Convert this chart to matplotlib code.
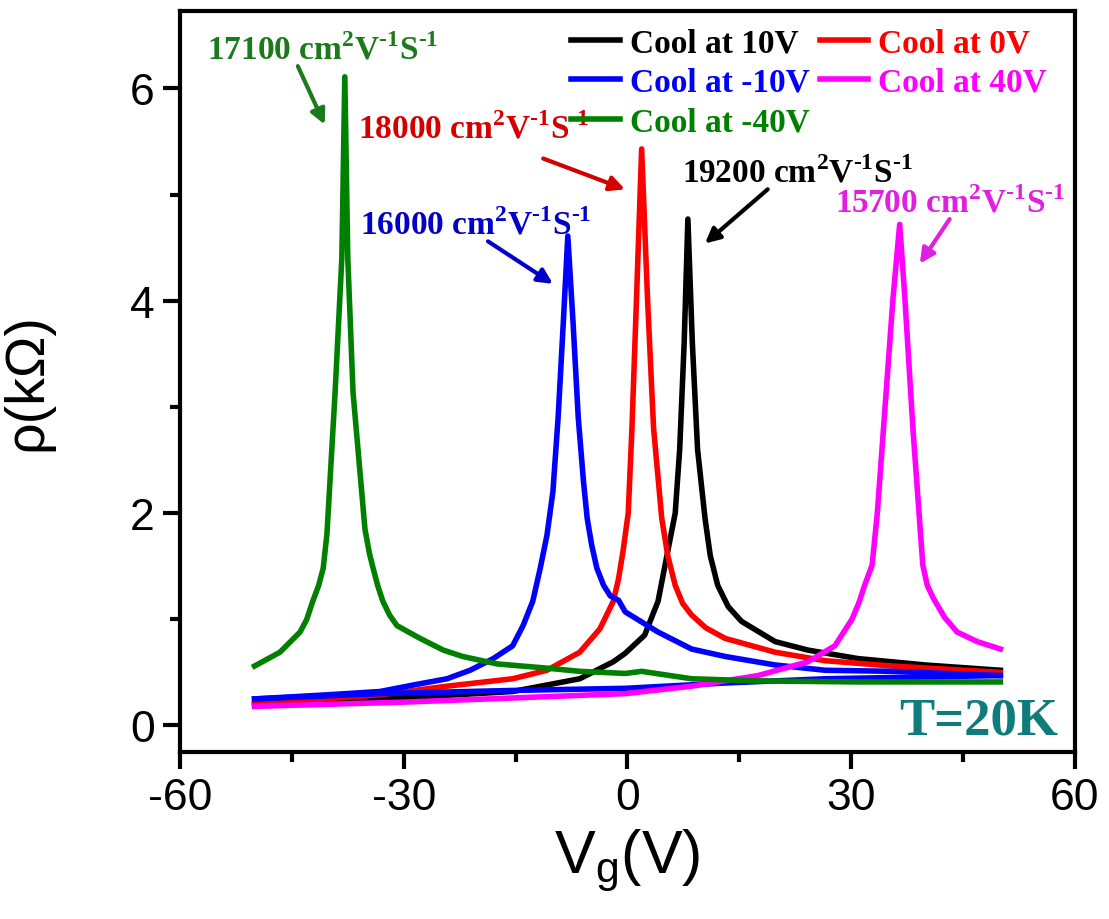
import numpy as np
import matplotlib
matplotlib.use("Agg")
import matplotlib.pyplot as plt
from matplotlib.ticker import MultipleLocator

plt.rcParams['axes.unicode_minus'] = False
plt.rcParams['mathtext.fontset'] = 'custom'
plt.rcParams['mathtext.rm'] = 'Liberation Serif:bold'
plt.rcParams['mathtext.sf'] = 'Liberation Sans'

# resistivity vs gate voltage, sample cooled at different gate biases (T = 20 K)
vg_10 = [-50, -30, -15.4, -6.4, -1.9, -0.3, 2.3, 4.1, 5.4, 6.4, 7.0, 7.6, 8.1, 8.7, 9.4, 10.4, 11.1, 12.1, 13.5, 15.3, 19.8, 24.2, 30.9, 39.9, 50]
rho_10 = [0.2, 0.26, 0.32, 0.44, 0.6, 0.68, 0.85, 1.17, 1.64, 2.0, 2.6, 3.6, 4.77, 3.6, 2.6, 1.95, 1.6, 1.32, 1.12, 0.98, 0.79, 0.71, 0.63, 0.57, 0.52]

vg_0 = [-50, -33, -24.2, -15.4, -10.8, -6.4, -3.7, -1.9, -1.2, -0.6, 0.1, 0.6, 1.2, 1.9, 2.7, 3.5, 4.6, 5.4, 6.4, 7.4, 8.6, 10.5, 13.1, 19.8, 26.5, 35.5, 50]
rho_0 = [0.2, 0.29, 0.37, 0.44, 0.52, 0.69, 0.91, 1.17, 1.38, 1.64, 2.0, 2.8, 4.0, 5.43, 4.0, 2.8, 1.95, 1.6, 1.32, 1.15, 1.04, 0.92, 0.82, 0.69, 0.61, 0.56, 0.5]

vg_m10 = [-50, -40, -33.2, -28.8, -24.2, -21.1, -18.0, -15.4, -14.0, -12.7, -11.7, -10.8, -10.0, -9.3, -8.6, -8.0, -7.3, -6.6, -5.9, -5.4, -4.8, -4.1, -3.2, -2.3, -1.2, -0.3, 4.1, 8.6, 13.1, 19.8, 26.5, 35.5, 50]
rho_m10 = [0.25, 0.29, 0.32, 0.38, 0.44, 0.52, 0.63, 0.75, 0.94, 1.17, 1.48, 1.79, 2.2, 2.9, 3.8, 4.61, 3.8, 2.9, 2.3, 1.95, 1.7, 1.48, 1.32, 1.22, 1.18, 1.07, 0.88, 0.72, 0.65, 0.57, 0.52, 0.51, 0.47]
# second (flat) trace of the -10 V run
vg_m10b = [-50, -33.2, -15.4, -0.3, 13.1, 26.5, 50]
rho_m10b = [0.25, 0.3, 0.33, 0.35, 0.40, 0.44, 0.47]

vg_40 = [-50, -30, -15, -0.3, 8.6, 17.5, 24.2, 27.8, 30.1, 31.0, 31.8, 32.8, 33.5, 34.3, 35.6, 36.5, 37.2, 38.3, 39.6, 40.2, 41.0, 42.5, 44.2, 46.9, 50]
rho_40 = [0.18, 0.22, 0.26, 0.30, 0.37, 0.47, 0.6, 0.75, 1.0, 1.15, 1.32, 1.51, 2.0, 2.77, 4.02, 4.72, 4.02, 2.77, 1.51, 1.32, 1.2, 1.02, 0.88, 0.79, 0.72]

vg_m40 = [-50, -46.6, -43.9, -43.0, -42.2, -41.4, -40.8, -40.3, -39.2, -38.3, -37.9, -37.5, -36.8, -35.2, -34.6, -34.1, -33.5, -32.8, -31.9, -30.9, -27.8, -24.7, -22.1, -17.5, -10.8, -6.4, -0.3, 1.9, 8.6, 17.5, 30.9, 50]
rho_m40 = [0.56, 0.69, 0.88, 1.0, 1.17, 1.32, 1.48, 1.8, 3.14, 4.4, 6.11, 4.4, 3.14, 1.85, 1.62, 1.48, 1.32, 1.17, 1.04, 0.94, 0.82, 0.71, 0.65, 0.58, 0.54, 0.51, 0.49, 0.51, 0.44, 0.42, 0.41, 0.41]

# mobility labels: text, colour, text position, arrow tail, arrow head
mob_text = ['17100', '18000', '16000', '19200', '15700']
mob_color = ['#1b7a1b', '#d40000', '#0000c8', 'black', '#e020e0']
mob_pos = [(-56.4, 6.28), (-36.1, 5.54), (-35.9, 4.63), (7.3, 5.12), (27.8, 4.84)]
arrow_tail = [(-44.2, 6.21), (-11.3, 5.34), (-18.7, 4.56), (18.8, 5.05), (43.2, 4.77)]
arrow_head = [(-40.6, 5.66), (-0.33, 5.05), (-10.0, 4.16), (10.4, 4.54), (39.2, 4.35)]

fig = plt.figure(figsize=(11.09, 9.2), dpi=100)
ax = fig.add_axes([0.1623, 0.1815, 0.8070, 0.8055])

lw = 4
l1, = ax.plot(vg_10, rho_10, color='black', lw=lw, label='Cool at 10V')
l2, = ax.plot(vg_0, rho_0, color='#ff0000', lw=lw, label='Cool at 0V')
ax.plot(vg_m10b, rho_m10b, color='#0000ff', lw=lw)
l3, = ax.plot(vg_m10, rho_m10, color='#0000ff', lw=lw, label='Cool at -10V')
l4, = ax.plot(vg_40, rho_40, color='#ff00ff', lw=lw, label='Cool at 40V')
l5, = ax.plot(vg_m40, rho_m40, color='#008000', lw=lw, label='Cool at -40V')

leg = ax.legend(handles=[l1, l3, l5, l2, l4], ncol=2, loc='upper right',
                bbox_to_anchor=(0.987, 1.0), frameon=False, borderpad=0,
                handlelength=1.45, handletextpad=0.3, columnspacing=0.3,
                labelspacing=0.25, labelcolor='linecolor',
                prop={'family': 'Liberation Serif', 'weight': 'bold', 'size': 24})
for h in leg.get_lines():
    h.set_linewidth(4)

for t, c, p, a, b in zip(mob_text, mob_color, mob_pos, arrow_tail, arrow_head):
    ax.text(p[0], p[1], t + r' cm$^{2}$V$^{\text{-1}}$S$^{\text{-1}}$', color=c,
            family='Liberation Serif', weight='bold', fontsize=24, va='baseline')
    ax.annotate('', xy=b, xytext=a,
                arrowprops=dict(arrowstyle='-|>', color=c, lw=3, mutation_scale=22,
                                shrinkA=0, shrinkB=0))

ax.text(57.7, -0.075, 'T=20K', color='#0e7c7b', family='Liberation Serif',
        weight='bold', fontsize=38, ha='right', va='baseline')

ax.set_xlim(-60, 60)
ax.set_ylim(-0.25, 6.73)
ax.xaxis.set_major_locator(MultipleLocator(30))
ax.xaxis.set_minor_locator(MultipleLocator(15))
ax.yaxis.set_major_locator(MultipleLocator(2))
ax.yaxis.set_minor_locator(MultipleLocator(1))
ax.tick_params(which='major', direction='out', length=12, width=3, labelsize=32, pad=6)
ax.tick_params(which='minor', direction='out', length=7, width=3)
for lab in ax.get_xticklabels() + ax.get_yticklabels():
    lab.set_family('Liberation Sans')
for s in ax.spines.values():
    s.set_linewidth(3)

ax.set_xlabel(r'$\mathsf{V_g}$(V)', family='Liberation Sans', fontsize=44, labelpad=6)
ax.set_ylabel('ρ(kΩ)', family='Liberation Sans', fontsize=40, labelpad=55)

fig.savefig('out.png', dpi=100)
